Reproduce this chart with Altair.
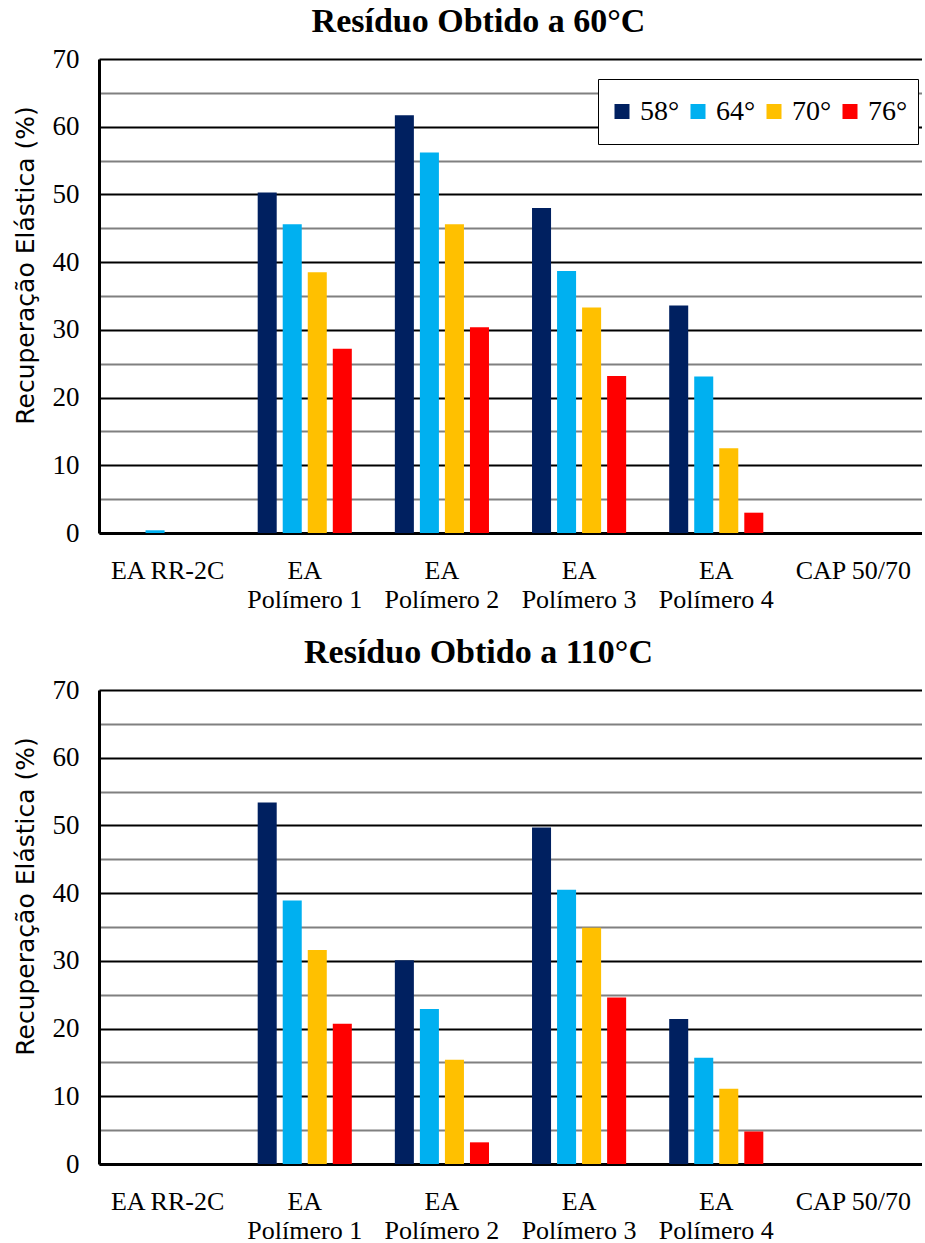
import altair as alt
import pandas as pd

# Categories (x axis) and temperature series
categories = ["EA RR-2C", "EA Polímero 1", "EA Polímero 2", "EA Polímero 3", "EA Polímero 4", "CAP 50/70"]
temps = ["58°", "64°", "70°", "76°"]
colors = ["#002060", "#00B0F0", "#FFC000", "#FF0000"]

# Elastic recovery (%) — residue obtained at 60 °C
r60_58 = [0.0, 50.3, 61.7, 48.0, 33.6, 0.0]
r60_64 = [0.4, 45.6, 56.2, 38.7, 23.1, 0.0]
r60_70 = [0.0, 38.5, 45.6, 33.3, 12.5, 0.0]
r60_76 = [0.0, 27.2, 30.4, 23.2, 3.0, 0.0]

# Elastic recovery (%) — residue obtained at 110 °C
r110_58 = [0.0, 53.4, 30.1, 49.7, 21.4, 0.0]
r110_64 = [0.0, 38.9, 22.9, 40.5, 15.7, 0.0]
r110_70 = [0.0, 31.6, 15.4, 34.9, 11.1, 0.0]
r110_76 = [0.0, 20.7, 3.2, 24.6, 4.8, 0.0]

SERIF = "Liberation Serif"
SANS = "DejaVu Sans"


def to_frame(series):
    rows = []
    for t, vals in zip(temps, series):
        for c, v in zip(categories, vals):
            rows.append({"Categoria": c, "Temp": t, "Valor": v})
    return pd.DataFrame(rows)


def panel(series, title, legend_y):
    df = to_frame(series)
    return (
        alt.Chart(df)
        .mark_bar()
        .encode(
            x=alt.X(
                "Categoria:N",
                sort=categories,
                scale=alt.Scale(paddingInner=0.27, paddingOuter=0.135),
                axis=alt.Axis(
                    title=None,
                    labelAngle=0,
                    labelFont=SERIF,
                    labelFontSize=26,
                    labelColor="black",
                    labelPadding=24,
                    labelLineHeight=29,
                    labelBaseline="top",
                    labelExpr="indexof(datum.label, 'Polímero') >= 0 ? ['EA', replace(datum.label, 'EA ', '')] : datum.label",
                    ticks=False,
                    domainColor="black",
                    domainWidth=3,
                    grid=False,
                ),
            ),
            xOffset=alt.XOffset(
                "Temp:N",
                sort=temps,
                scale=alt.Scale(paddingInner=0.24, paddingOuter=0.12),
            ),
            y=alt.Y(
                "Valor:Q",
                scale=alt.Scale(domain=[0, 70], nice=False),
                axis=alt.Axis(
                    title="Recuperação Elástica (%)",
                    titleFont=SANS,
                    titleFontSize=25,
                    titleFontWeight="normal",
                    titleColor="black",
                    titlePadding=14,
                    titleY=206,
                    values=list(range(0, 75, 5)),
                    labelExpr="datum.value % 10 === 0 ? datum.label : ''",
                    labelFont=SERIF,
                    labelFontSize=27,
                    labelColor="black",
                    labelPadding=20,
                    ticks=False,
                    domainColor="black",
                    domainWidth=3,
                    grid=True,
                    gridWidth=2,
                    gridColor={
                        "condition": {"test": "datum.value % 10 === 0", "value": "#000000"},
                        "value": "#808080",
                    },
                ),
            ),
            color=alt.Color(
                "Temp:N",
                sort=temps,
                scale=alt.Scale(domain=temps, range=colors),
                legend=alt.Legend(
                    title=None,
                    orient="none",
                    legendX=499,
                    legendY=legend_y,
                    direction="horizontal",
                    symbolType="square",
                    symbolSize=225,
                    symbolStrokeWidth=0,
                    labelFont=SERIF,
                    labelFontSize=28,
                    labelColor="black",
                    labelOffset=4,
                    columnPadding=4,
                    padding=10,
                    clipHeight=45,
                    strokeColor="black",
                    fillColor="white",
                ),
            ),
        )
        .properties(
            width=823,
            height=474,
            title=alt.TitleParams(
                title,
                font=SERIF,
                fontSize=34,
                fontWeight="bold",
                color="black",
                anchor="middle",
                dx=-32,
                offset=6,
            ),
        )
    )


top = panel([r60_58, r60_64, r60_70, r60_76], "Resíduo Obtido a 60°C", 20)
bottom = panel([r110_58, r110_64, r110_70, r110_76], "Resíduo Obtido a 110°C", 7)

chart = (
    alt.vconcat(top, bottom, spacing=24)
    .properties(padding={"left": 13, "top": 5, "right": 0, "bottom": 0}, background="white")
    .configure_view(stroke=None)
)

chart.save("out.html", embed_options={"renderer": "svg", "actions": False})
